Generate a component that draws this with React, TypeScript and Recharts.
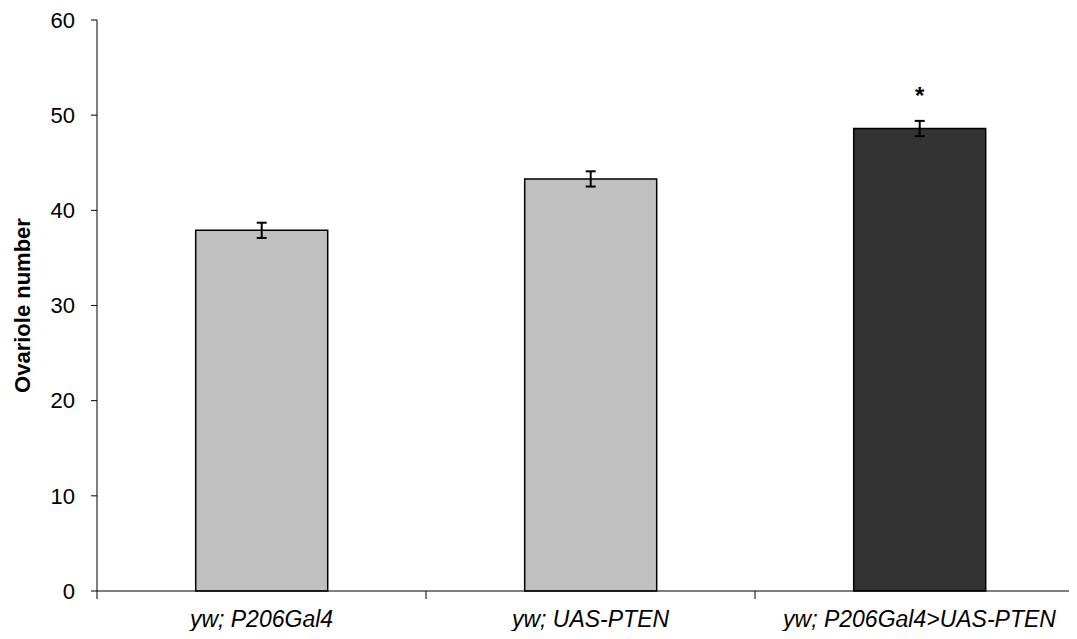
import { BarChart, Bar, XAxis, YAxis, ErrorBar, Cell, LabelList } from 'recharts';

// genotypes on the x axis
const genotypes = ['yw; P206Gal4', 'yw; UAS-PTEN', 'yw; P206Gal4>UAS-PTEN'];
// mean ovariole number and standard error
const ovarioles = [37.9, 43.3, 48.6];
const errors = [0.8, 0.8, 0.8];
// significance marks above the bars
const marks = ['', '', '*'];
const barColors = ['#c0c0c0', '#c0c0c0', '#333333'];
const yTicks = [0, 10, 20, 30, 40, 50, 60];

const data = genotypes.map((g, i) => ({
    genotype: g,
    value: ovarioles[i],
    err: errors[i],
    mark: marks[i],
}));

const FONT = '"Liberation Sans", Arial, sans-serif';

// label centred under the bar, tick lines at the category boundaries
const CategoryTick = (props: any) => {
    const { x, y, payload, index } = props;
    const half = payload && payload.offset ? payload.offset : 987 / genotypes.length / 2;
    const axisY = y - 20;
    return (
        <g>
            <line x1={x - half} y1={axisY} x2={x - half} y2={axisY + 8} stroke="#000" strokeWidth={1} />
            {index === genotypes.length - 1 && (
                <line x1={x + half} y1={axisY} x2={x + half} y2={axisY + 8} stroke="#000" strokeWidth={1} />
            )}
            <text x={x} y={y} dy="0.7em" textAnchor="middle" fontFamily={FONT} fontSize={23} fontStyle="italic" fill="#000">
                {payload.value}
            </text>
        </g>
    );
};

export default function App() {
    return (
        <div style={{ margin: -8, width: 1077, height: 639, overflow: 'hidden', background: '#fff' }}>
            <BarChart
                width={1084}
                height={639}
                data={data}
                margin={{ top: 20, right: 0, bottom: 8, left: 0 }}
                barCategoryGap="30%"
            >
                <XAxis
                    dataKey="genotype"
                    height={40}
                    axisLine={{ stroke: '#000', strokeWidth: 1 }}
                    tickLine={false}
                    tickSize={8}
                    tickMargin={12}
                    tick={<CategoryTick />}
                    interval={0}
                />
                <YAxis
                    width={97}
                    domain={[0, 60]}
                    ticks={yTicks}
                    interval={0}
                    axisLine={{ stroke: '#000', strokeWidth: 1 }}
                    tickLine={{ stroke: '#000', strokeWidth: 1 }}
                    tickSize={6}
                    tickMargin={16}
                    tick={{ fill: '#000', fontSize: 22, fontFamily: FONT }}
                    label={{
                        content: ({ viewBox }: any) => (
                            <text
                                x={viewBox.x + 22}
                                y={viewBox.y + viewBox.height / 2}
                                transform={`rotate(-90, ${viewBox.x + 22}, ${viewBox.y + viewBox.height / 2})`}
                                textAnchor="middle"
                                dominantBaseline="central"
                                fontFamily={FONT}
                                fontWeight="bold"
                                fontSize={22}
                                fill="#000"
                            >
                                Ovariole number
                            </text>
                        ),
                    }}
                />
                <Bar dataKey="value" stroke="#000" strokeWidth={1.5} isAnimationActive={false}>
                    {data.map((d, i) => (
                        <Cell key={d.genotype} fill={barColors[i]} />
                    ))}
                    <ErrorBar dataKey="err" width={5} stroke="#000" strokeWidth={2} direction="y" />
                    <LabelList
                        dataKey="mark"
                        position="top"
                        offset={24}
                        style={{ fontFamily: FONT, fontWeight: 'bold', fontSize: 24, fill: '#000' }}
                    />
                </Bar>
            </BarChart>
        </div>
    );
}
